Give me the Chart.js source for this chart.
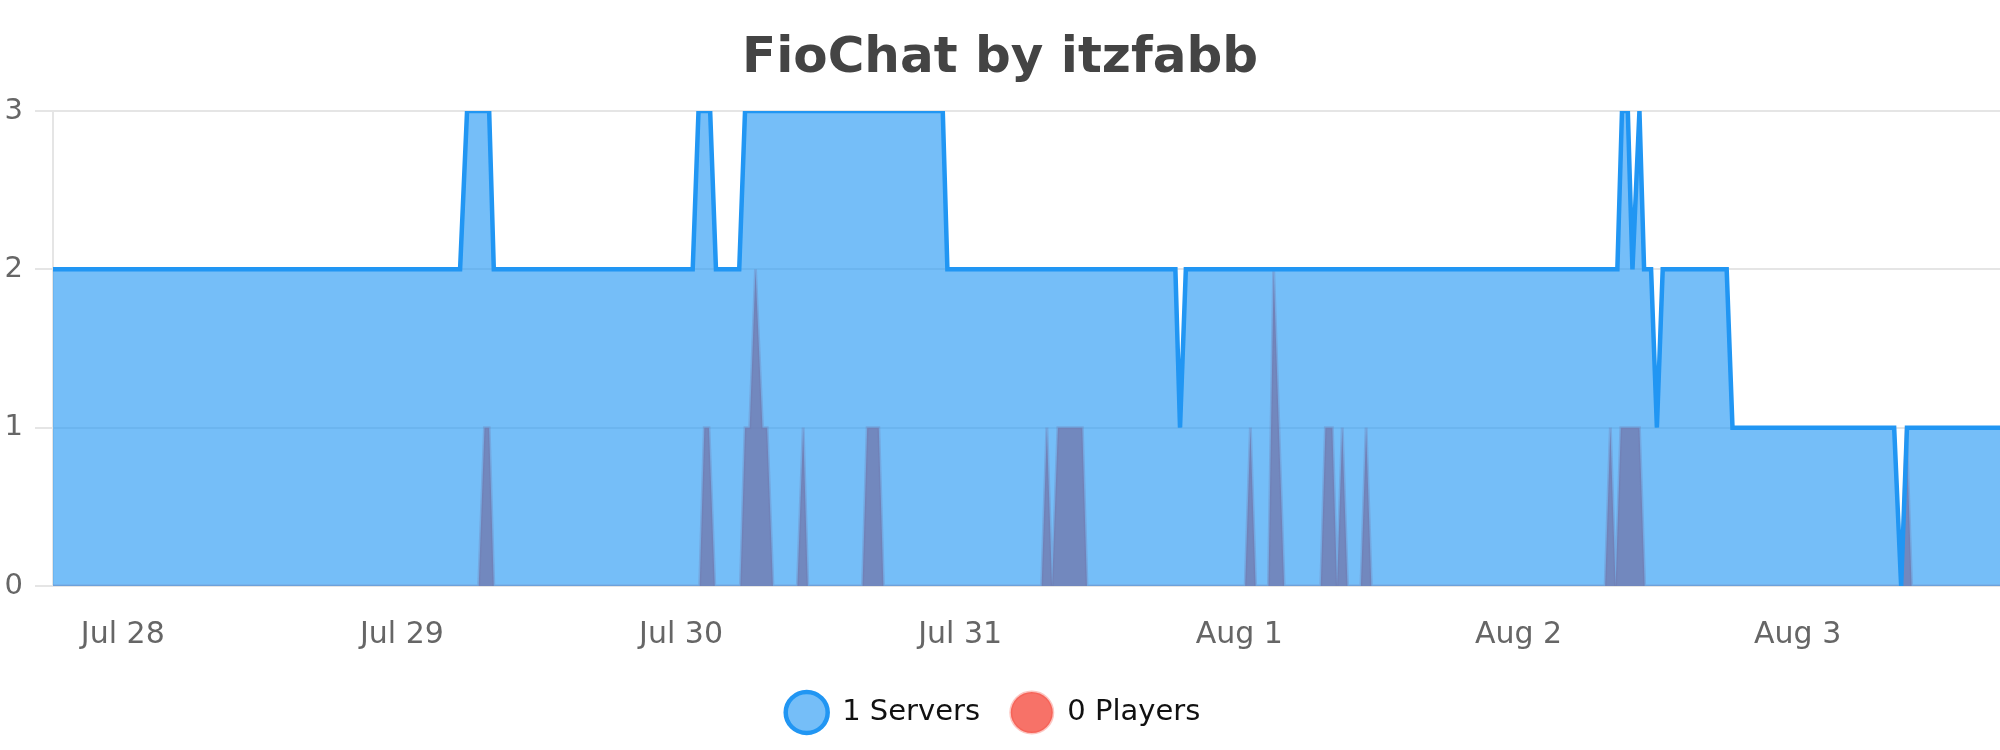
<!DOCTYPE html>
<html><head><meta charset="utf-8">
<script src="https://cdn.jsdelivr.net/npm/chart.js@4/dist/chart.umd.min.js"></script>
<style>html,body{margin:0;padding:0;background:#fff}#wrap{width:2000px;height:750px;position:relative}</style>
</head><body><div id="wrap"><canvas id="c"></canvas></div>
<script>
const chartTitle = "FioChat by itzfabb";
const seriesNames = ["1 Servers", "0 Players"];
// x values: hours since Jul 28 00:00
const dayTickHours = [0, 24, 48, 72, 96, 120, 144];
const dayTickLabels = ["Jul 28", "Jul 29", "Jul 30", "Jul 31", "Aug 1", "Aug 2", "Aug 3"];
const rangeStart = -6;
const rangeEnd = 161.4;

const serverHours = [-6, 29.0, 29.6, 31.5, 31.9, 49.0, 49.5, 50.5, 51.0, 53.0, 53.5, 70.5, 70.9, 90.5, 90.9, 91.4, 128.5, 128.9, 129.4, 129.8, 130.4, 130.8, 131.4, 131.9, 132.4, 137.9, 138.4, 152.3, 152.9, 153.4, 161.4];
const serverCounts = [2, 2, 3, 3, 2, 2, 3, 3, 2, 2, 3, 3, 2, 2, 1, 2, 2, 3, 3, 2, 3, 2, 2, 1, 2, 2, 1, 1, 0, 1, 1];

const playerHours = [-6, 30.6, 31.1, 31.5, 31.9, 49.6, 50.0, 50.4, 50.9, 53.1, 53.5, 53.9, 54.4, 55.0, 55.4, 55.9, 58.0, 58.5, 58.9, 63.6, 64.0, 65.0, 65.4, 79.0, 79.45, 79.9, 80.4, 82.5, 82.9, 96.5, 96.95, 97.4, 98.5, 98.95, 99.85, 103.0, 103.4, 104.0, 104.4, 104.85, 105.3, 106.45, 106.9, 107.35, 127.45, 127.9, 128.35, 128.8, 130.4, 130.85, 152.9, 153.35, 153.8, 161.4];
const playerCounts = [0, 0, 1, 1, 0, 0, 1, 1, 0, 0, 1, 1, 2, 1, 1, 0, 0, 1, 0, 0, 1, 1, 0, 0, 1, 0, 1, 1, 0, 0, 1, 0, 0, 2, 0, 0, 1, 1, 0, 1, 0, 0, 1, 0, 0, 1, 0, 1, 1, 0, 0, 1, 0, 0];

const toPoints = (xs, ys) => xs.map((x, i) => ({x: x, y: ys[i]}));

// legend is centred in a box slightly narrower than the canvas, as in the reference
const legendBoxPlugin = {
  id: 'legendBox',
  afterLayout(chart) {
    const l = chart.legend;
    if (l) { l.width = 1986; l.right = l.left + 1986; }
  }
};

new Chart(document.getElementById('c'), {
  type: 'line',
  data: {
    datasets: [
      {
        label: seriesNames[0],
        data: toPoints(serverHours, serverCounts),
        borderColor: '#2196F3',
        backgroundColor: 'rgba(33,150,243,0.62)',
        borderWidth: 4.5,
        fill: 'origin',
        pointRadius: 0,
        tension: 0
      },
      {
        label: seriesNames[1],
        data: toPoints(playerHours, playerCounts),
        borderColor: 'rgba(244,67,54,0.3)',
        backgroundColor: 'rgba(244,67,54,0.75)',
        borderWidth: 3,
        fill: 'origin',
        pointRadius: 0,
        tension: 0
      }
    ]
  },
  plugins: [legendBoxPlugin],
  options: {
    responsive: true,
    maintainAspectRatio: false,
    devicePixelRatio: 1,
    animation: false,
    layout: {padding: {left: 0, right: 0, top: 0, bottom: 13}},
    plugins: {
      title: {
        display: true, text: chartTitle, color: '#444',
        font: {family: 'DejaVu Sans', size: 50, weight: 'bold'},
        padding: {top: 29, bottom: 22}
      },
      legend: {
        position: 'bottom',
        labels: {
          usePointStyle: true, pointStyle: 'circle', boxHeight: 30, pointStyleWidth: 42,
          padding: 30.7, color: '#111',
          font: {family: 'DejaVu Sans', size: 29}
        }
      },
      tooltip: {enabled: false}
    },
    scales: {
      x: {
        type: 'linear', min: rangeStart, max: rangeEnd,
        grid: {display: false}, border: {display: false},
        afterBuildTicks: (s) => { s.ticks = dayTickHours.map(v => ({value: v})); },
        afterFit: (s) => { s.height = 81.3; },
        ticks: {
          autoSkip: false, maxRotation: 0, padding: 32, color: '#666',
          font: {family: 'DejaVu Sans', size: 30, lineHeight: 0.6},
          callback: (v) => { const i = dayTickHours.indexOf(v); return i >= 0 ? dayTickLabels[i] : ''; }
        }
      },
      y: {
        min: 0, max: 3,
        afterFit: (s) => { s.width = 53; },
        ticks: {stepSize: 1, padding: 12, color: '#666', font: {family: 'DejaVu Sans', size: 29}},
        grid: {color: 'rgba(0,0,0,0.1)', lineWidth: 2, tickLength: 18},
        border: {color: 'rgba(0,0,0,0.1)', width: 2}
      }
    }
  }
});
</script>
</body></html>
